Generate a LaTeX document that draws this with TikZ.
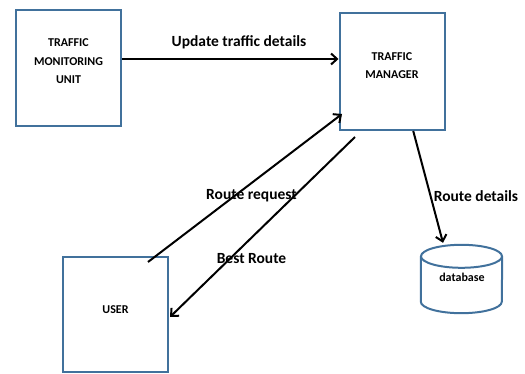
\documentclass[tikz,border=0pt]{standalone}
\usepackage{fontspec}
\setmainfont{Carlito}
\usetikzlibrary{arrows.meta}
\definecolor{boxblue}{HTML}{41719C}
\tikzset{
  blockbox/.style={draw=boxblue, line width=2pt, fill=white, inner sep=0pt},
  boxtext/.style={font=\fontsize{12}{18.5}\selectfont\bfseries, align=center, inner sep=0pt},
  lbl/.style={font=\fontsize{15.5}{17}\selectfont\bfseries, inner sep=0pt},
  flow/.style={line width=2pt, -{Straight Barb[length=6pt,width=11pt,line width=2pt]}},
  dbline/.style={draw=boxblue, line width=2pt}
}
\begin{document}
\begin{tikzpicture}[x=1pt,y=-1pt]
\useasboundingbox (0,0) rectangle (525,374);
% boxes
\node[blockbox, minimum width=105pt, minimum height=116pt] (tmu) at (68.5,68) {};
\node[blockbox, minimum width=105.5pt, minimum height=117pt] (tm) at (392.25,71.5) {};
\node[blockbox, minimum width=105pt, minimum height=115pt] (user) at (115.5,314.5) {};
% database cylinder
\node[inner sep=0pt, minimum width=81pt, minimum height=68pt] (db) at (461.5,279) {};
\path (db.north) ++(0,11.5) coordinate (dbtc);
\draw[dbline] (dbtc) ellipse[x radius=40.5, y radius=11.5];
\draw[dbline] ([shift={(0,11.5)}]db.north west) -- ([shift={(0,-11.5)}]db.south west)
  arc[start angle=180, end angle=0, x radius=40.5, y radius=11.5]
  -- ([shift={(0,11.5)}]db.north east);
% box texts
\node[boxtext] (tmut) at (68.5,61.5) {TRAFFIC\\MONITORING\\UNIT};
\node[boxtext] (tmt) at (392,65.5) {TRAFFIC\\MANAGER};
\node[boxtext] (usert) at (115.5,310) {USER};
\node[boxtext] (dbt) at (462,277) {database};
% connectors
\draw[flow] ([shift={(0,-9)}]tmu.east) -- ([shift={(0,-12.5)}]tm.west);
\draw[flow] ([shift={(-21,6)}]user.north east) -- ([shift={(3.5,-17)}]tm.south west);
\draw[flow] ([shift={(16.5,6)}]tm.south west) -- ([shift={(1,2.5)}]user.east);
\draw[flow] ([shift={(21,0)}]tm.south) -- ([shift={(-18.5,-2)}]db.north);
% labels
\node[lbl] (l1) at (239,42) {Update traffic details};
\node[lbl] (l2) at (251.5,196) {Route request};
\node[lbl] (l3) at (251.5,259) {Best Route};
\node[lbl] (l4) at (476,196) {Route details};
\end{tikzpicture}
\end{document}
